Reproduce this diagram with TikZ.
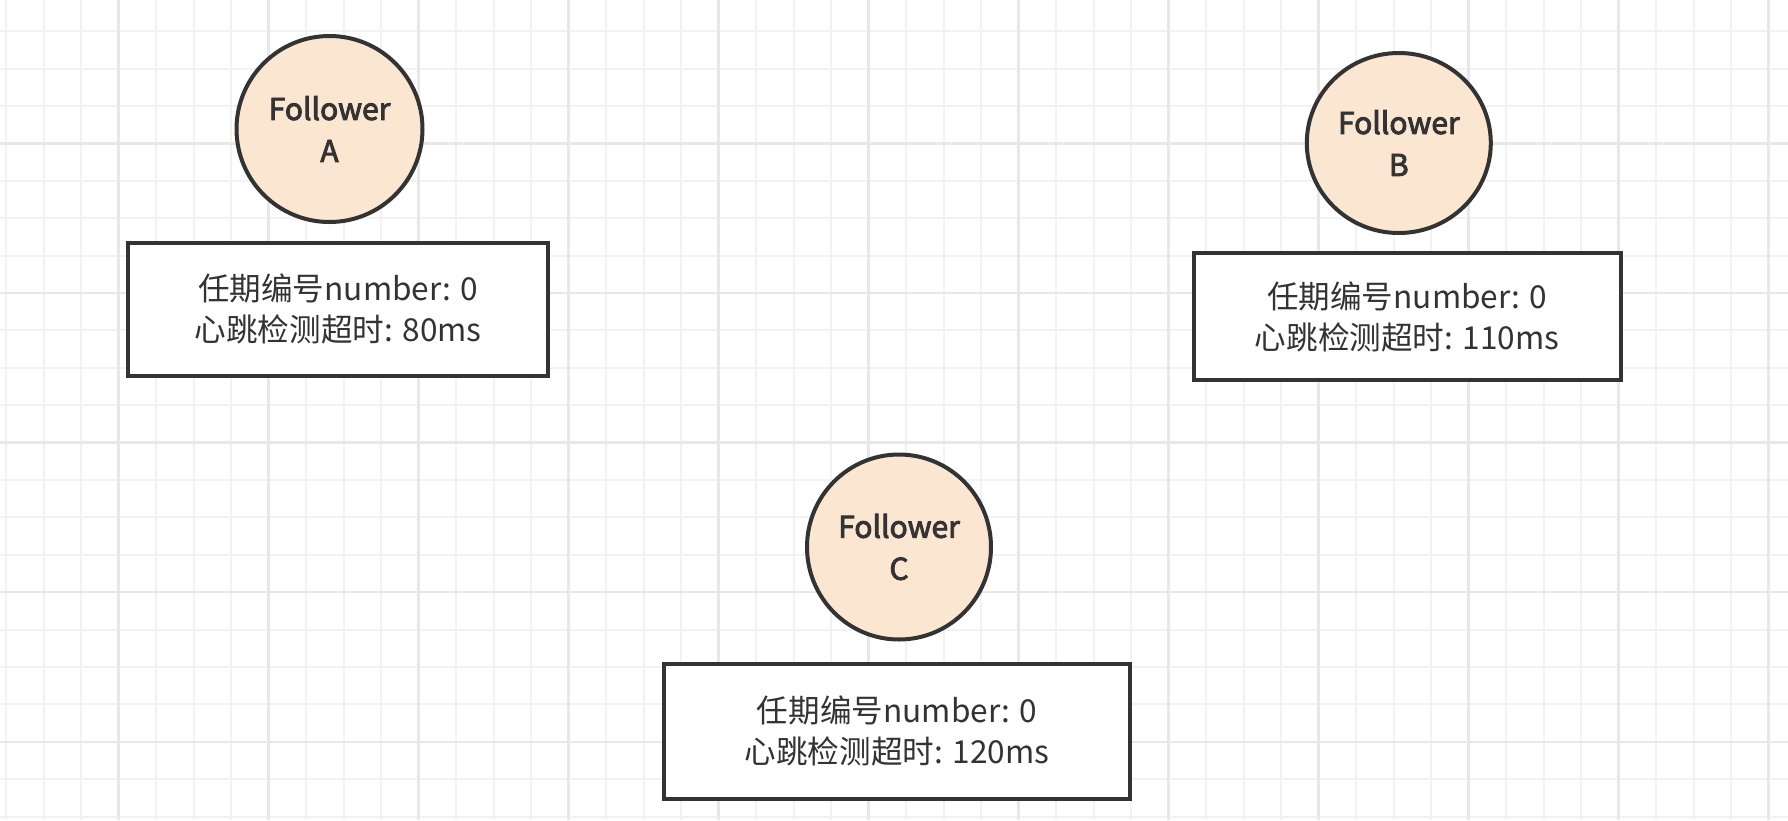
\documentclass[tikz,border=0pt]{standalone}
\usepackage{fontspec}
\setmainfont{Noto Sans CJK SC}
\newfontfamily\followerfont[FakeBold=3]{Noto Sans CJK SC}
\usetikzlibrary{shapes.geometric}
\definecolor{ink}{HTML}{333333}
\definecolor{peach}{HTML}{FBE6D1}
\definecolor{gridminor}{HTML}{F2F2F2}
\definecolor{gridmajor}{HTML}{E8E8E8}
\tikzset{
  minorline/.style={gridminor, line width=1pt},
  majorline/.style={gridmajor, line width=1.2pt},
  follower/.style={ellipse, draw=ink, fill=peach, line width=2pt, inner sep=0pt,
    text=ink, align=center, font=\fontsize{15pt}{21pt}\followerfont},
  infobox/.style={rectangle, draw=ink, fill=white, line width=2pt, inner sep=0pt,
    text=ink, align=center, font=\fontsize{15.8pt}{20.5pt}\selectfont},
}
\begin{document}
\begin{tikzpicture}[x=0.5pt, y=-0.5pt]
  % page and background
  \fill[white] (0,0) rectangle (1788,820);
  \useasboundingbox (0,0) rectangle (1788,820);
  % squared paper: light lines every 37.5 units, darker every fourth
  \foreach \i in {0,...,47} {
    \pgfmathsetmacro\xx{6.1+37.5*\i}
    \draw[minorline] (\xx,0) -- (\xx,820);
  }
  \foreach \j in {0,...,21} {
    \pgfmathsetmacro\yy{31.1+37.4*\j}
    \draw[minorline] (0,\yy) -- (1788,\yy);
  }
  \foreach \i in {0,...,11} {
    \pgfmathsetmacro\xx{118.6+150*\i}
    \draw[majorline] (\xx,0) -- (\xx,820);
  }
  \foreach \j in {0,...,4} {
    \pgfmathsetmacro\yy{143.3+149.6*\j}
    \draw[majorline] (0,\yy) -- (1788,\yy);
  }

  % followers
  \node[follower, minimum width=93pt, minimum height=93pt] (fa) at (329.5,129) {Follower\\A};
  \node[follower, minimum width=92pt, minimum height=90pt] (fb) at (1398.8,143) {Follower\\B};
  \node[follower, minimum width=92pt, minimum height=92.5pt] (fc) at (899,547) {Follower\\C};

  % state boxes
  \node[infobox, minimum width=209.8pt, minimum height=66.5pt] (ta) at (338.2,309.2)
    {任期编号number: 0\\心跳检测超时: 80ms};
  \node[infobox, minimum width=213.5pt, minimum height=63.8pt] (tb) at (1407.2,316.5)
    {任期编号number: 0\\心跳检测超时: 110ms};
  \node[infobox, minimum width=233.3pt, minimum height=67.6pt] (tc) at (897,731.3)
    {任期编号number: 0\\心跳检测超时: 120ms};
\end{tikzpicture}
\end{document}
